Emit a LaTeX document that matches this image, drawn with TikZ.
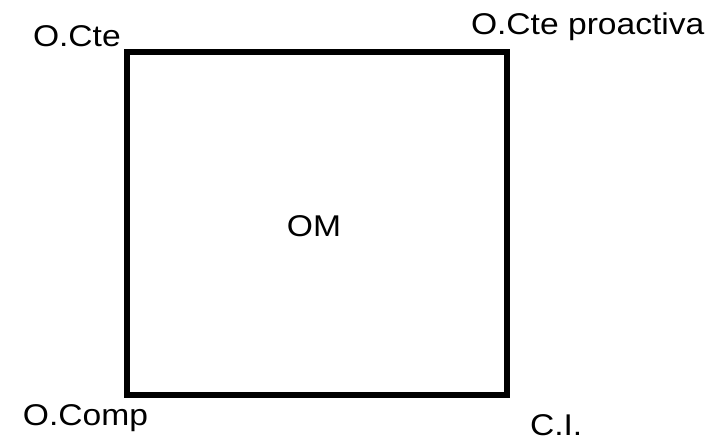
\documentclass[tikz,border=0pt]{standalone}
\usepackage{fontspec}
\setmainfont{Liberation Sans}
\newfontfamily\etiqfont[FakeStretch=1.12]{Liberation Sans}

\begin{document}
\begin{tikzpicture}[x=1pt, y=-1pt, line width=6pt]
    \tikzset{etiq/.style={anchor=base west, inner sep=0pt, font=\etiqfont\fontsize{30}{32}\selectfont}}
    % marco de la imagen
    \useasboundingbox (0,0) rectangle (725,443);

    % esquinas del cuadro
    \coordinate (ne) at (507,52);
    \coordinate (nw) at (127,52);
    \coordinate (sw) at (127,395);
    \coordinate (se) at (507,395);

    % cuadro central
    \draw[line join=miter] (nw) -- (ne) -- (se) -- (sw) -- cycle;

    % texto del centro
    \node[etiq, anchor=center] (om) at (314,226) {OM};

    % etiquetas de las esquinas
    \node[etiq] (octe) at (30,47) {O.Cte};
    \node[etiq] (octep) at (468,35) {O.Cte proactiva};
    \node[etiq] (ocomp) at (20,425) {O.Comp};
    \node[etiq] (ci) at (527,435) {C.I.};
\end{tikzpicture}
\end{document}
